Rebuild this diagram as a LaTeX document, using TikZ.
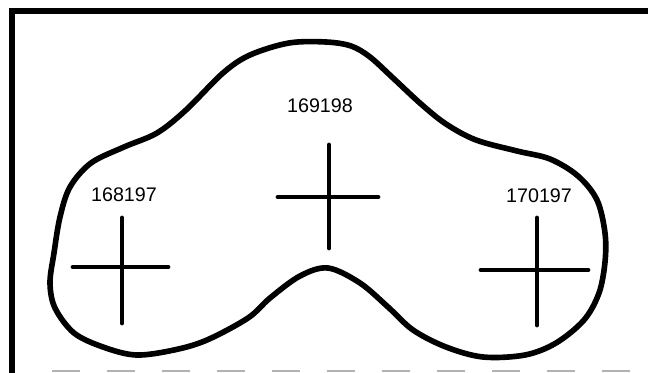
\documentclass[tikz,border=0pt]{standalone}
\usepackage{fontspec}
\setmainfont{Liberation Sans}
\begin{document}
\begin{tikzpicture}[x=0.025cm,y=-0.025cm,
  outline/.style={line width=4pt, line join=round},
  frameline/.style={line width=4pt},
  crossbar/.style={line width=3.4pt, line cap=round},
  station/.style={font=\fontsize{14}{16}\selectfont, inner sep=0pt}]
  \useasboundingbox (0,0) rectangle (648,373);
  % frame (open on the right, dashed at the bottom)
  \draw[frameline] (648,11) -- (12,11) -- (12,373);
  \coordinate (dashstart) at (52,371);
  \coordinate (dashend) at (648,371);
  \draw[gray!60, line width=1.6pt, dash pattern=on 0.7cm off 0.675cm] (dashstart) -- (dashend);
  % outline of the area
  \draw[outline] plot[smooth cycle, tension=0.55] coordinates {
    (289,43) (326,42) (351,46) (370,57) (393,78) (421,104) (446,124)
    (476,140) (517,151) (550,159) (578,176) (597,200) (605,233) (605,262)
    (599,293) (584,320) (556,343) (525,355) (483,357) (446,347) (413,330)
    (388,307) (360,283) (328,268) (300,276) (270,298) (248,318) (207,340)
    (174,350) (136,355) (103,347) (74,333) (55,308) (50,283) (54,253)
    (60,217) (70,187) (91,163) (124,147) (157,133) (186,110) (223,73) (250,55)};
  % stations
  \coordinate (m168197) at (122,267);
  \coordinate (m169198) at (329,197);
  \coordinate (m170197) at (537,270);
  \node[station] (t168197) at (124,195) {168197};
  \node[station] (t169198) at (320,106) {169198};
  \node[station] (t170197) at (539,196) {170197};
  % crosses
  \draw[crossbar] (m168197) ++(-49,0) -- ++(95,0);
  \draw[crossbar] (m168197) ++(0,-49) -- ++(0,105);
  \draw[crossbar] (m169198) ++(-51,0) -- ++(100,0);
  \draw[crossbar] (m169198) ++(0,-52) -- ++(0,103);
  \draw[crossbar] (m170197) ++(-56,0) -- ++(107,0);
  \draw[crossbar] (m170197) ++(0,-52) -- ++(0,107);
\end{tikzpicture}
\end{document}
